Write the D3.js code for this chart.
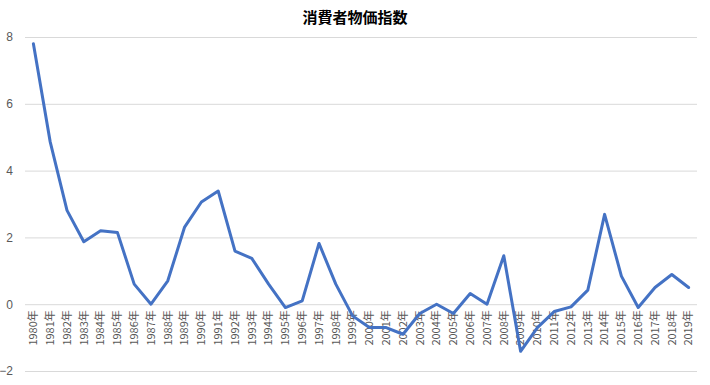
<!DOCTYPE html>
<html>
<head>
<meta charset="utf-8">
<script src="https://cdn.jsdelivr.net/npm/d3@7"></script>
<style>
  body { margin: 0; background: #fff; }
  svg { font-family: "Noto Sans CJK JP", "Liberation Sans", sans-serif; }
</style>
</head>
<body>
<svg width="710" height="385"></svg>
<script>
// 消費者物価指数 (前年比, %)
var years = d3.range(1980, 2020).map(function(y) { return y + "年"; });
var values = [7.8, 4.86, 2.81, 1.87, 2.2, 2.15, 0.6, 0.0, 0.7, 2.31,
              3.06, 3.39, 1.59, 1.37, 0.6, -0.1, 0.1, 1.82, 0.6, -0.35,
              -0.7, -0.7, -0.9, -0.28, 0.0, -0.28, 0.32, 0.0, 1.45, -1.41,
              -0.7, -0.22, -0.08, 0.42, 2.69, 0.84, -0.1, 0.5, 0.89, 0.5];
var yTicks = [-2, 0, 2, 4, 6, 8];

var svg = d3.select("svg"),
    width = +svg.attr("width"),
    height = +svg.attr("height");

var margin = {left: 25, right: 13, top: 37, bottom: 14};

var x = d3.scaleBand()
    .domain(years)
    .range([margin.left, width - margin.right]);

var y = d3.scaleLinear()
    .domain([-2, 8])
    .range([height - margin.bottom, margin.top]);

// title
svg.append("text")
    .attr("x", width / 2)
    .attr("y", 23)
    .attr("text-anchor", "middle")
    .attr("font-size", "15px")
    .attr("font-weight", "bold")
    .attr("fill", "#000")
    .text("消費者物価指数");

// gridlines + y labels
var yAxis = svg.append("g")
    .attr("transform", "translate(" + margin.left + ",0)")
    .call(d3.axisLeft(y).tickValues(yTicks)
      .tickSize(-(width - margin.left - margin.right))
      .tickPadding(12));
yAxis.select(".domain").remove();
yAxis.selectAll(".tick line")
    .attr("stroke", "#d9d9d9")
    .attr("stroke-width", 1);
yAxis.selectAll(".tick text")
    .attr("fill", "#595959")
    .attr("font-size", "12px")
    .attr("font-family", "Liberation Sans, sans-serif");

// x labels rotated
var xAxis = svg.append("g")
    .attr("transform", "translate(0," + y(0) + ")")
    .call(d3.axisBottom(x).tickSize(0).tickPadding(0));
xAxis.select(".domain").remove();
xAxis.attr("font-family", null);
xAxis.selectAll(".tick text")
    .attr("transform", "rotate(-90)")
    .attr("text-anchor", "end")
    .attr("x", -6)
    .attr("y", 0)
    .attr("dy", "0.35em")
    .attr("fill", "#595959")
    .attr("font-family", "Noto Sans CJK JP, sans-serif")
    .attr("font-size", "11px");

// line
var line = d3.line()
    .x(function(d, i) { return x(years[i]) + x.bandwidth() / 2; })
    .y(function(d) { return y(d); });

svg.append("path")
    .datum(values)
    .attr("fill", "none")
    .attr("stroke", "#4472c4")
    .attr("stroke-width", 3)
    .attr("stroke-linejoin", "round")
    .attr("stroke-linecap", "round")
    .attr("d", line);
</script>
</body>
</html>
